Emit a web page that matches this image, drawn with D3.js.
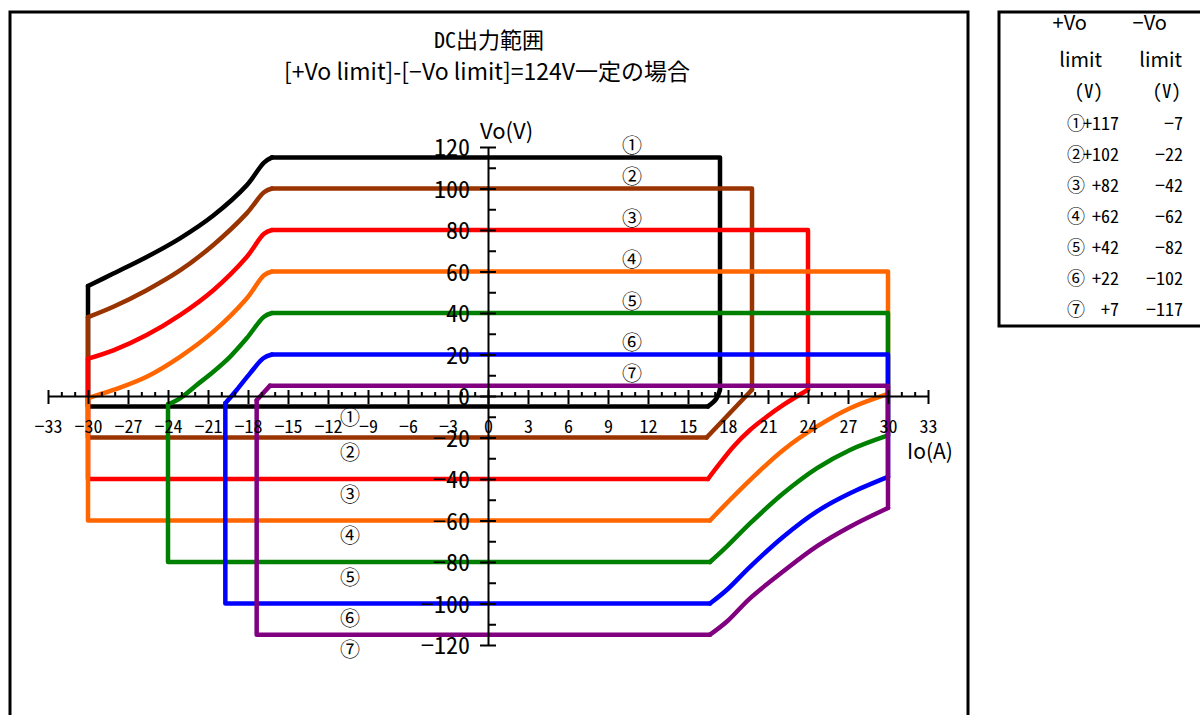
<!DOCTYPE html>
<html>
<head>
<meta charset="utf-8">
<script src="https://cdn.jsdelivr.net/npm/d3@7"></script>
<style>
  body { margin: 0; background: #fff; }
  text { font-family: "Noto Sans Mono CJK JP", "Noto Sans CJK JP", sans-serif; fill: #000; }
  text.prop { font-family: "Noto Sans CJK JP", sans-serif; }
</style>
</head>
<body>
<div class="chart"></div>
<script>
// series labels, colours and the limit table
const seriesLabels = ['①', '②', '③', '④', '⑤', '⑥', '⑦'];
const seriesColors = ['#000000', '#993300', '#ff0000', '#ff6600', '#008000', '#0000ff', '#800080'];
const plusLimit = ['+117', '+102', '+82', '+62', '+42', '+22', '+7'];
const minusLimit = ['−7', '−22', '−42', '−62', '−82', '−102', '−117'];

// axis ticks
const xMajorTicks = [-33, -30, -27, -24, -21, -18, -15, -12, -9, -6, -3, 0, 3, 6, 9, 12, 15, 18, 21, 24, 27, 30, 33];
const xMinorTicks = [-32, -31, -29, -28, -26, -25, -23, -22, -20, -19, -17, -16, -14, -13, -11, -10, -8, -7, -5, -4, -2, -1,
  1, 2, 4, 5, 7, 8, 10, 11, 13, 14, 16, 17, 19, 20, 22, 23, 25, 26, 28, 29, 31, 32];
const yMajorTicks = [120, 100, 80, 60, 40, 20, 0, -20, -40, -60, -80, -100, -120];
const yMinorTicks = [110, 90, 70, 50, 30, 10, -10, -30, -50, -70, -90, -110];

// each range: upper-left curve (from left edge up to the top level)
// and lower-right curve (from right edge down to the bottom level), [Io, Vo]
const upper1 = [[-30, 53], [-28.1, 59], [-25.6, 67], [-23.1, 76], [-20.6, 87], [-18.1, 101.5], [-16.8, 112.5], [-16.2, 115]];
const lower1 = [[17.4, 3], [17.1, -1.5], [16.5, -5]];
const upper2 = [[-30, 38], [-28.1, 43], [-25.6, 51], [-23.1, 60.5], [-20.6, 72.8], [-18.1, 88], [-16.8, 98.2], [-16.2, 100]];
const lower2 = [[19.8, 3], [16.4, -20]];
const upper3 = [[-30, 18], [-28.1, 22], [-25.6, 29.4], [-23.1, 39], [-20.6, 51], [-18.1, 67], [-16.8, 78.2], [-16.2, 80]];
const lower3 = [[24, 3], [22.15, -4.3], [20.9, -10], [19.65, -16.4], [18.4, -24.4], [17.4, -32.4], [16.5, -40]];
const upper4 = [[-30, -1], [-28.1, 2.9], [-25.6, 9.3], [-23.1, 18.9], [-20.6, 31], [-18.1, 47], [-16.8, 58.2], [-16.2, 60]];
const lower4 = [[30, 1], [27.15, -5.9], [24.65, -14.8], [22.15, -26], [19.65, -40.5], [17.9, -51.7], [16.65, -60]];
const upper5 = [[-24, -4], [-23.1, -1.1], [-21.85, 5.3], [-20.6, 11.7], [-19.35, 18.9], [-18.1, 27.8], [-16.8, 38.2], [-16.2, 40]];
const lower5 = [[30, -19], [27.15, -26], [24.65, -34.9], [22.15, -46.9], [19.65, -61.4], [17.9, -72.6], [16.65, -80]];
const upper6 = [[-19.7, -3.5], [-18.85, 2.9], [-17.85, 10.9], [-16.85, 18.2], [-16.2, 20]];
const lower6 = [[30, -39], [27.15, -46.9], [24.65, -55.7], [22.15, -67.8], [19.65, -82.3], [17.9, -93.5], [16.65, -100]];
const upper7 = [[-17.35, -2], [-16.35, 5]];
const lower7 = [[30, -54], [27.15, -63], [24.65, -72.5], [22.15, -84.5], [19.65, -97.5], [17.9, -108.8], [16.65, -115]];

const uppers = [upper1, upper2, upper3, upper4, upper5, upper6, upper7];
const lowers = [lower1, lower2, lower3, lower4, lower5, lower6, lower7];

const width = 1200;
const height = 715;

const svg = d3.select('.chart')
  .append('svg')
  .attr('width', width)
  .attr('height', height);

// outer frames
svg.append('path')
  .attr('d', 'M10,730V12H968V730')
  .attr('fill', 'none')
  .attr('stroke', '#000')
  .attr('stroke-width', 3);

svg.append('rect')
  .attr('x', 999).attr('y', 12)
  .attr('width', 240).attr('height', 314)
  .attr('fill', 'none')
  .attr('stroke', '#000')
  .attr('stroke-width', 3);

// titles
svg.append('text')
  .attr('x', 489).attr('y', 48)
  .attr('text-anchor', 'middle')
  .style('font-size', '22px')
  .text('DC出力範囲');

svg.append('text')
  .attr('class', 'prop')
  .attr('x', 487).attr('y', 80)
  .attr('text-anchor', 'middle')
  .style('font-size', '23px')
  .text('[+Vo limit]-[−Vo limit]=124V一定の場合');

// scales
const x = d3.scaleLinear().domain([-33, 33]).range([48, 928]);
const y = d3.scaleLinear().domain([-120, 120]).range([645, 147]);

const straight = d3.line().x(d => x(d[0])).y(d => y(d[1]));
const smooth = d3.line().x(d => x(d[0])).y(d => y(d[1])).curve(d3.curveCatmullRom.alpha(0.5));

// draw each range, later ones on top
uppers.forEach(function(up, i) {
  const lo = lowers[i];
  const leftI = up[0][0];
  const topV = up[up.length - 1][1];
  const rightI = lo[0][0];
  const botV = lo[lo.length - 1][1];

  const g = svg.append('g')
    .attr('fill', 'none')
    .attr('stroke', seriesColors[i])
    .attr('stroke-width', 4.5)
    .attr('stroke-linejoin', 'round')
    .attr('stroke-linecap', 'round');

  g.append('path').attr('d', straight([up[up.length - 1], [rightI, topV], lo[0]]));
  g.append('path').attr('d', straight([lo[lo.length - 1], [leftI, botV], up[0]]));
  g.append('path').attr('d', smooth(up));
  g.append('path').attr('d', smooth(lo));
});

// circled numbers on the chart
svg.selectAll('.top-label')
  .data(uppers)
  .enter()
  .append('text')
  .attr('class', 'top-label')
  .attr('x', x(10.8))
  .attr('y', d => y(d[d.length - 1][1]) - 13)
  .attr('text-anchor', 'middle')
  .attr('dominant-baseline', 'central')
  .style('font-size', '20px')
  .text((d, i) => seriesLabels[i]);

svg.selectAll('.bottom-label')
  .data(lowers)
  .enter()
  .append('text')
  .attr('class', 'bottom-label')
  .attr('x', x(-10.35))
  .attr('y', (d, i) => y(d[d.length - 1][1]) + (i === 0 ? 10 : 14))
  .attr('text-anchor', 'middle')
  .attr('dominant-baseline', 'central')
  .style('font-size', '20px')
  .text((d, i) => seriesLabels[i]);

// x axis
const xAxisG = svg.append('g')
  .attr('transform', `translate(0,${y(0)})`)
  .call(d3.axisBottom(x).tickValues(xMajorTicks).tickSize(8).tickSizeOuter(0)
    .tickFormat(d => d < 0 ? '−' + Math.abs(d) : d));
xAxisG.select('.domain').attr('stroke-width', 2);
xAxisG.selectAll('.tick line').attr('y1', -6).attr('y2', 8).attr('stroke-width', 2);
xAxisG.selectAll('.tick text')
  .attr('y', 37).attr('dy', 0)
  .style('font-family', '"Noto Sans Mono CJK JP", "Noto Sans CJK JP", sans-serif')
  .style('font-size', '18px');

svg.append('g')
  .attr('transform', `translate(0,${y(0)})`)
  .call(d3.axisBottom(x).tickValues(xMinorTicks).tickSize(-4).tickFormat(''))
  .call(g => g.select('.domain').remove())
  .selectAll('.tick line').attr('stroke-width', 2);

// y axis
const yAxisG = svg.append('g')
  .attr('transform', `translate(${x(0)},0)`)
  .call(d3.axisLeft(y).tickValues(yMajorTicks).tickSize(8).tickPadding(10).tickSizeOuter(0)
    .tickFormat(d => d < 0 ? '−' + Math.abs(d) : d));
yAxisG.select('.domain').attr('stroke-width', 2);
yAxisG.selectAll('.tick line').attr('x1', -8).attr('x2', 8).attr('stroke-width', 2);
yAxisG.selectAll('.tick text')
  .attr('dy', '0.36em')
  .style('font-family', '"Noto Sans Mono CJK JP", "Noto Sans CJK JP", sans-serif')
  .style('font-size', '24px');

svg.append('g')
  .attr('transform', `translate(${x(0)},0)`)
  .call(d3.axisRight(y).tickValues(yMinorTicks).tickSize(8).tickFormat(''))
  .call(g => g.select('.domain').remove())
  .selectAll('.tick line').attr('stroke-width', 2);

// axis titles
svg.append('text')
  .attr('class', 'prop')
  .attr('x', 480).attr('y', 139)
  .style('font-size', '22px')
  .text('Vo(V)');

svg.append('text')
  .attr('class', 'prop')
  .attr('x', 907).attr('y', 459)
  .style('font-size', '21px')
  .text('Io(A)');

// limit table
const table = svg.append('g').style('font-size', '18px');
table.append('text').attr('class', 'prop').style('font-size', '20px')
  .attr('x', 1087).attr('y', 30).attr('text-anchor', 'end').text('+Vo');
table.append('text').attr('class', 'prop').style('font-size', '20px')
  .attr('x', 1167).attr('y', 30).attr('text-anchor', 'end').text('−Vo');
table.append('text').attr('class', 'prop').style('font-size', '20px')
  .attr('x', 1102).attr('y', 67).attr('text-anchor', 'end').text('limit');
table.append('text').attr('class', 'prop').style('font-size', '20px')
  .attr('x', 1182).attr('y', 67).attr('text-anchor', 'end').text('limit');
table.append('text').style('font-size', '19px')
  .attr('x', 1103).attr('y', 98).attr('text-anchor', 'end').text('(V)');
table.append('text').style('font-size', '19px')
  .attr('x', 1181).attr('y', 98).attr('text-anchor', 'end').text('(V)');

const rowY = d3.scaleLinear().domain([0, 6]).range([122, 308]);

table.selectAll('.row-num')
  .data(seriesLabels)
  .enter()
  .append('text')
  .attr('x', 1076)
  .attr('y', (d, i) => rowY(i))
  .attr('text-anchor', 'middle')
  .attr('dominant-baseline', 'central')
  .text(d => d);

table.selectAll('.row-plus')
  .data(plusLimit)
  .enter()
  .append('text')
  .attr('x', 1119)
  .attr('y', (d, i) => rowY(i))
  .attr('text-anchor', 'end')
  .attr('dominant-baseline', 'central')
  .text(d => d);

table.selectAll('.row-minus')
  .data(minusLimit)
  .enter()
  .append('text')
  .attr('x', 1183)
  .attr('y', (d, i) => rowY(i))
  .attr('text-anchor', 'end')
  .attr('dominant-baseline', 'central')
  .text(d => d);
</script>
</body>
</html>
